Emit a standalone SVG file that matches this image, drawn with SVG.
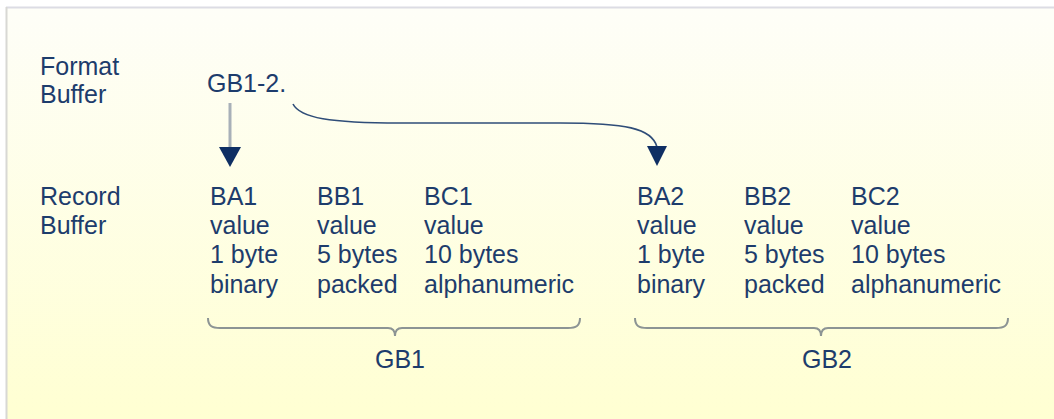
<svg xmlns="http://www.w3.org/2000/svg" width="1054" height="419" viewBox="0 0 1054 419">
<defs>
<linearGradient id="bg" x1="0" y1="0" x2="0" y2="1">
<stop offset="0" stop-color="#fefef8"/>
<stop offset="1" stop-color="#ffffd2"/>
</linearGradient>
</defs>
<style>
text{font-family:"Liberation Sans",Arial,sans-serif;font-size:25px;fill:#1d3c6c}
.brace{fill:none;stroke:#8c9494;stroke-width:2}
.conn{fill:none;stroke:#2f4d78;stroke-width:1.6}
.grey{fill:none;stroke:#a8b0b8;stroke-width:3}
.head{fill:#0f2f63}
</style>
<rect x="0" y="0" width="1054" height="419" fill="#ffffff"/>
<rect x="7" y="8" width="1047" height="411" fill="url(#bg)"/>
<line x1="6" y1="7.5" x2="1054" y2="7.5" stroke="#dcdce4" stroke-width="2"/>
<line x1="6.5" y1="7" x2="6.5" y2="419" stroke="#d8d8d4" stroke-width="2"/>

<g id="format-buffer-label">
<text x="40" y="75">Format</text>
<text x="40" y="103">Buffer</text>
</g>
<g id="format-spec">
<text x="207" y="92">GB1-2.</text>
</g>
<g id="record-buffer-label">
<text x="40" y="205">Record</text>
<text x="40" y="234">Buffer</text>
</g>
<g id="BA1">
<text x="210" y="205">BA1</text>
<text x="210" y="234">value</text>
<text x="210" y="263">1 byte</text>
<text x="210" y="293">binary</text>
</g>
<g id="BB1">
<text x="317" y="205">BB1</text>
<text x="317" y="234">value</text>
<text x="317" y="263">5 bytes</text>
<text x="317" y="293">packed</text>
</g>
<g id="BC1">
<text x="424" y="205">BC1</text>
<text x="424" y="234">value</text>
<text x="424" y="263">10 bytes</text>
<text x="424" y="293">alphanumeric</text>
</g>
<g id="BA2">
<text x="637" y="205">BA2</text>
<text x="637" y="234">value</text>
<text x="637" y="263">1 byte</text>
<text x="637" y="293">binary</text>
</g>
<g id="BB2">
<text x="744" y="205">BB2</text>
<text x="744" y="234">value</text>
<text x="744" y="263">5 bytes</text>
<text x="744" y="293">packed</text>
</g>
<g id="BC2">
<text x="851" y="205">BC2</text>
<text x="851" y="234">value</text>
<text x="851" y="263">10 bytes</text>
<text x="851" y="293">alphanumeric</text>
</g>
<g id="GB1">
<path class="brace" d="M208,318 C208,326 212,328 220,328 L388,328 C393,328 395,331 395,336 C395,331 397,328 402,328 L568,328 C576,328 580,326 580,318"/>
<text x="400" y="368" text-anchor="middle">GB1</text>
</g>
<g id="GB2">
<path class="brace" d="M635,318 C635,326 639,328 647,328 L814,328 C819,328 821,331 821,336 C821,331 823,328 828,328 L996,328 C1004,328 1008,326 1008,318"/>
<text x="827" y="368" text-anchor="middle">GB2</text>
</g>
<g id="connectors">
<line class="grey" x1="230" y1="103" x2="230" y2="148"/>
<polygon class="head" points="219,147 241,147 230,167"/>
<path class="conn" d="M293,104 C300,118 330,123 400,123 L560,123 C625,123 652,128 657,147"/>
<polygon class="head" points="647,146 667,146 657,166"/>
</g>
</svg>
